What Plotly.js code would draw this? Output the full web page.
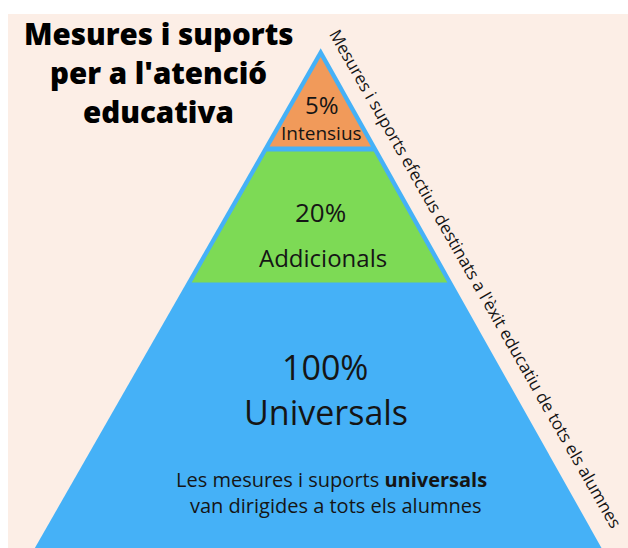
<!DOCTYPE html>
<html>
<head>
<meta charset="utf-8">
<script src="https://cdn.plot.ly/plotly-3.0.1.min.js"></script>
<style>
html,body{margin:0;padding:0;background:#fff;}
#chart{width:628px;height:548px;}
</style>
</head>
<body>
<div id="chart"></div>
<script>
// ---- data ----
const tierNames = ['Intensius', 'Addicionals', 'Universals'];
const tierPercents = [5, 20, 100];
const titleLines = ['Mesures i suports', "per a l'atenció", 'educativa'];
const noteLines = ['Les mesures i suports <b>universals</b>', 'van dirigides a tots els alumnes'];
const sideText = "Mesures i suports efectius destinats a l'èxit educatiu de tots els alumnes";

// ---- geometry (pixel-like data units) ----
const apex = {x: 320.7, y: 48.3};
const slopeL = 0.572, slopeR = 0.562;
const baseY = 548;
const inset = 5;
const tierBands = [[null, 146.5], [151.5, 282.5]]; // top / bottom of inner tiers
const colors = {bg: '#FCEEE6', blue: '#45B1F7', orange: '#F19A5A', green: '#7DDA55', text: '#151515'};

function xL(y, d) { return apex.x - slopeL * (y - apex.y) + d; }
function xR(y, d) { return apex.x + slopeR * (y - apex.y) - d; }

const traces = [];
// outer pyramid (Universals)
traces.push({
  x: [apex.x, xR(baseY, 0), xL(baseY, 0), apex.x],
  y: [apex.y, baseY, baseY, apex.y],
  mode: 'lines', fill: 'toself', fillcolor: colors.blue,
  line: {width: 0, color: colors.blue}, hoverinfo: 'skip', name: tierNames[2]
});
// Intensius (triangle)
const t = 2 * inset / (slopeL + slopeR);
const innerApexY = apex.y + t;
const innerApexX = xL(innerApexY, inset);
const ob = tierBands[0][1];
traces.push({
  x: [innerApexX, xR(ob, inset), xL(ob, inset), innerApexX],
  y: [innerApexY, ob, ob, innerApexY],
  mode: 'lines', fill: 'toself', fillcolor: colors.orange,
  line: {width: 0, color: colors.orange}, hoverinfo: 'skip', name: tierNames[0]
});
// Addicionals (trapezoid)
const gt = tierBands[1][0], gb = tierBands[1][1];
traces.push({
  x: [xL(gt, inset), xR(gt, inset), xR(gb, inset), xL(gb, inset), xL(gt, inset)],
  y: [gt, gt, gb, gb, gt],
  mode: 'lines', fill: 'toself', fillcolor: colors.green,
  line: {width: 0, color: colors.green}, hoverinfo: 'skip', name: tierNames[1]
});

const F = 'Open Sans, sans-serif';
function ann(x, y, text, size, extra) {
  return Object.assign({x: x, y: y, xref: 'x', yref: 'y', text: text, showarrow: false,
    xanchor: 'center', yanchor: 'middle', font: {family: F, size: size, color: colors.text}}, extra || {});
}
const annotations = [];
// title
const titleY = [33, 72, 111];
titleLines.forEach((s, i) => annotations.push(ann(158, titleY[i], s, 29.5,
  {font: {family: F, size: 29.5, color: '#000', weight: 800}})));
// tier labels
annotations.push(ann(321.5, 104, tierPercents[0] + '%', 24));
annotations.push(ann(321.7, 133, tierNames[0], 19));
annotations.push(ann(320, 212, tierPercents[1] + '%', 26));
annotations.push(ann(323, 257, tierNames[1], 24));
annotations.push(ann(325, 367, tierPercents[2] + '%', 34));
annotations.push(ann(326, 412, tierNames[2], 34));
// note
annotations.push(ann(331, 479, noteLines[0], 20));
annotations.push(ann(335, 505, noteLines[1], 20));
// side text
annotations.push(ann(476, 278, sideText, 17, {textangle: 60.3}));

const layout = {
  width: 628, height: 548,
  margin: {l: 8, r: 0, t: 14, b: 0, pad: 0},
  paper_bgcolor: '#ffffff', plot_bgcolor: colors.bg,
  showlegend: false,
  xaxis: {range: [8, 628], visible: false, fixedrange: true},
  yaxis: {range: [548, 14], visible: false, fixedrange: true},
  annotations: annotations
};
Plotly.newPlot('chart', traces, layout, {displayModeBar: false, staticPlot: true});
</script>
</body>
</html>
